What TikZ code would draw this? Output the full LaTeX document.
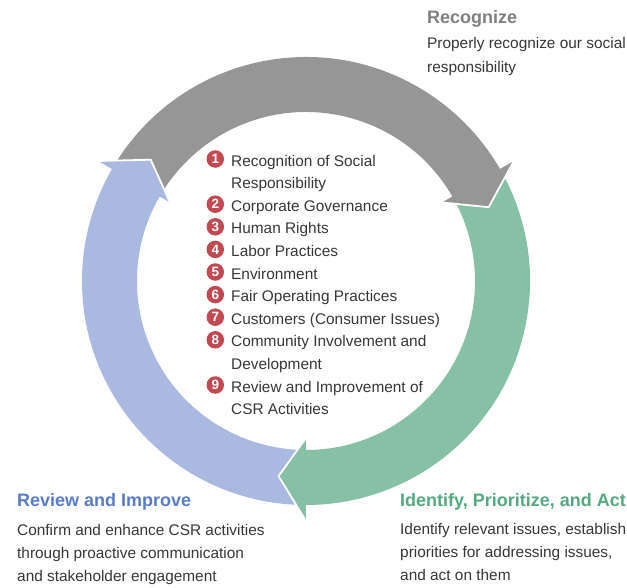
\documentclass[tikz,border=0pt]{standalone}
\usepackage{fontspec}
\setmainfont{Liberation Sans}
\usepackage{xcolor}
\usetikzlibrary{arrows.meta,positioning,calc}
\definecolor{ringgray}{RGB}{150,150,150}
\definecolor{ringgreen}{RGB}{134,192,165}
\definecolor{ringblue}{RGB}{169,185,224}
\definecolor{titlegray}{RGB}{128,128,128}
\definecolor{titlegreen}{RGB}{84,170,128}
\definecolor{titleblue}{RGB}{88,124,200}
\definecolor{badgered}{RGB}{194,72,82}
\definecolor{txtgray}{RGB}{55,55,55}

\begin{document}
\begin{tikzpicture}[x=1pt,y=1pt,
  every node/.style={font=\fontsize{15.4}{22.6}\selectfont,text=txtgray,inner sep=0pt},
  badge/.style={circle,fill=badgered,minimum size=17.5pt,text=white,font=\fontsize{13.5}{13.5}\selectfont\bfseries},
  listitem/.style={anchor=base west,align=left},
  headline/.style={anchor=base west,font=\fontsize{18}{20}\selectfont\bfseries},
  desc/.style={anchor=base west,align=left,font=\fontsize{15.4}{23.2}\selectfont}]
  \useasboundingbox (-306,-306) rectangle (321,281);
  % ring bodies
  \foreach \a/\b/\c in {150/29/ringgray,30/-91/ringgreen,270/149/ringblue}
    \fill[\c] (\a:224) arc[start angle=\a,end angle=\b,radius=224]
      -- (\b:169) arc[start angle=\b,end angle=\a,radius=169] -- cycle;
  % arrow heads
  \foreach \h/\c in {30/ringgray,-90/ringgreen,150/ringblue}{
    \fill[\c] (\h:157) -- ({\h-8}:197) -- (\h:240) -- cycle;
    \draw[white,line width=1.8pt,line join=miter] (\h:157) -- ({\h-8}:197) -- (\h:240);
  }
  % list of core subjects (node base = last line)
  \foreach \n/\l/\m/\txt in {1/0/1/{Recognition of Social\\Responsibility},2/2/2/Corporate Governance,
      3/3/3/Human Rights,4/4/4/Labor Practices,5/5/5/Environment,6/6/6/Fair Operating Practices,
      7/7/7/Customers (Consumer Issues),8/8/9/{Community Involvement and\\Development},
      9/10/11/{Review and Improvement of\\CSR Activities}}{
    \node[badge] (badge\n) at (-90.7,{122-22.6*\l}) {\n};
    \node[listitem] (item\n) at (-75,{115-22.6*\m}) {\txt};
  }
  % recognize
  \node[headline,text=titlegray] (recog) at (121,257) {Recognize};
  \node[desc] (recogtxt) at (121,208.8) {Properly recognize our social\\responsibility};
  % review and improve
  \node[headline,text=titleblue] (review) at (-289,-225) {Review and Improve};
  \node[desc] (reviewtxt) at (-289,-300.4) {Confirm and enhance CSR activities\\through proactive communication\\and stakeholder engagement};
  % identify, prioritize, act
  \node[headline,text=titlegreen] (ident) at (94,-225) {Identify, Prioritize, and Act};
  \node[desc] (identtxt) at (94,-299.4) {Identify relevant issues, establish\\priorities for addressing issues,\\and act on them};
\end{tikzpicture}
\end{document}
